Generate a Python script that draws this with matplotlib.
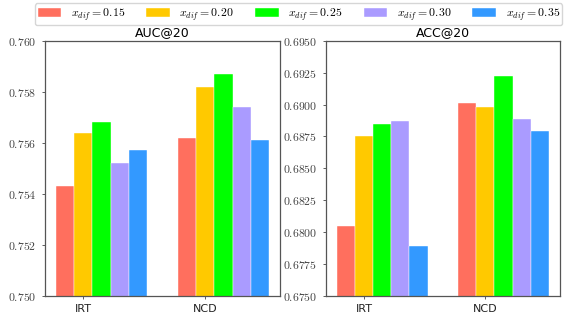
import matplotlib
matplotlib.use("Agg")
import matplotlib.pyplot as plt
import numpy as np
from matplotlib.ticker import FuncFormatter

plt.rcParams["mathtext.fontset"] = "cm"

models = ["IRT", "NCD"]
xdif_labels = ["0.15", "0.20", "0.25", "0.30", "0.35"]
colors = ["#FF6F5E", "#FFC900", "#00FF00", "#AA9BFF", "#3399FF"]

auc_irt = [0.7543, 0.7564, 0.7568, 0.7552, 0.7557]
auc_ncd = [0.7562, 0.7582, 0.7587, 0.7574, 0.7561]
acc_irt = [0.6805, 0.6875, 0.6885, 0.6887, 0.6789]
acc_ncd = [0.6901, 0.6898, 0.6922, 0.6889, 0.6879]

fig = plt.figure(figsize=(5.8, 3.24), dpi=100)
ax1 = fig.add_axes([0.0776, 0.0864, 0.405, 0.788])
ax2 = fig.add_axes([0.562, 0.0864, 0.403, 0.788])

x = np.arange(len(models))
w = 0.15


def draw(ax, irt, ncd, title, ylim, step, fmt):
    handles = []
    for i, c in enumerate(colors):
        b = ax.bar(x + (i - 1) * w, [irt[i], ncd[i]], w, color=c,
                   edgecolor="white", linewidth=0.3,
                   label=r"$x_{dif}=%s$" % xdif_labels[i])
        handles.append(b)
    ax.set_ylim(*ylim)
    ax.set_yticks(np.arange(ylim[0], ylim[1] + step / 2, step))
    ax.yaxis.set_major_formatter(FuncFormatter(lambda v, p: "$" + fmt % v + "$"))
    ax.set_xticks(x)
    ax.set_xticklabels(models, fontsize=8)
    ax.tick_params(axis="y", labelsize=8.5, length=2.5, width=0.6, colors="#444")
    ax.tick_params(axis="x", length=2.5, width=0.6, colors="#444", labelcolor="#222")
    ax.set_title(title, fontsize=9, pad=3)
    for s in ax.spines.values():
        s.set_color("#555")
        s.set_linewidth(0.9)
    return handles


h = draw(ax1, auc_irt, auc_ncd, "AUC@20", (0.750, 0.760), 0.002, "%.3f")
draw(ax2, acc_irt, acc_ncd, "ACC@20", (0.6750, 0.6950), 0.0025, "%.4f")

fig.legend(handles=h, loc="upper center", bbox_to_anchor=(0.515, 1.008), ncol=5,
           fontsize=8.5, handlelength=2.0, handleheight=0.7, columnspacing=1.8,
           handletextpad=0.8, frameon=True, borderpad=0.22)

fig.savefig("out.png", dpi=100)
